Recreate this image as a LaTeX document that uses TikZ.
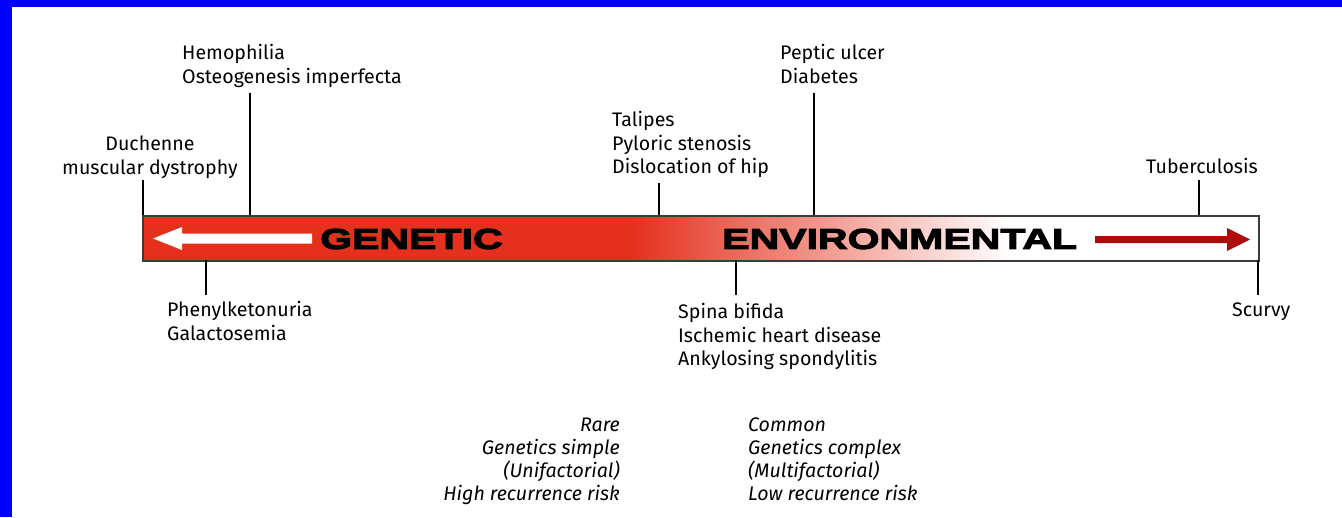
\documentclass[tikz,border=0pt]{standalone}
\usepackage{fontspec}
\setmainfont{Fira Sans}
\newfontfamily\heavyfont{Liberation Sans Bold}[FakeBold=4,FakeStretch=1.44]
\definecolor{frameblue}{RGB}{0,0,255}
\definecolor{barred}{RGB}{228,48,28}
\definecolor{arrowred}{RGB}{172,12,12}
\definecolor{barline}{RGB}{60,60,60}
\tikzset{
  lbl/.style={inner sep=0pt, font=\fontsize{19.6}{23.6}\selectfont, align=left},
  ital/.style={inner sep=0pt, font=\fontsize{19.6}{23}\selectfont\itshape},
  tick/.style={draw=black, line width=1.4pt},
  bigword/.style={inner sep=0pt, anchor=west, font=\heavyfont\fontsize{28.5}{30}\selectfont}
}
\begin{document}
\begin{tikzpicture}[x=1pt,y=-1pt]
\useasboundingbox (0,0) rectangle (1342,517);
\fill[white] (0,0) rectangle (1342,517);
\fill[frameblue] (0,0) rectangle (1342,7);
\fill[frameblue] (0,0) rectangle (12,517);

% bar fill
\fill[barred] (142,215) rectangle (630,260);
\shade[left color=barred, right color=white] (630,215) rectangle (1010,260);
\node[draw=barline, line width=1.5pt, inner sep=0pt, minimum width=1116pt, minimum height=45pt, anchor=north west] (bar) at (142,215) {};

% arrows
\fill[white] (153,238.5) -- (182,227) -- (182,233.5) -- (312,233.5) -- (312,243.5) -- (182,243.5) -- (182,250) -- cycle;
\fill[arrowred] (1250,239.5) -- (1227,228) -- (1227,236) -- (1095,236) -- (1095,243) -- (1227,243) -- (1227,251) -- cycle;

\node[bigword] (gen) at (320,239) {GENETIC};
\node[bigword] (env) at (722,239) {ENVIRONMENTAL};

% labels above
\node[lbl, anchor=north west] (hemo) at (182,44) {Hemophilia\\Osteogenesis imperfecta};
\node[lbl, anchor=north, align=center] (duch) at (150,136) {Duchenne\\muscular dystrophy};
\node[lbl, anchor=north west] (tali) at (612,111) {Talipes\\Pyloric stenosis\\Dislocation of hip};
\node[lbl, anchor=north west] (pept) at (780,44) {Peptic ulcer\\Diabetes};
\node[lbl, anchor=north] (tube) at (1202,158) {Tuberculosis};

% labels below
\node[lbl, anchor=north west] (phen) at (167,301) {Phenylketonuria\\Galactosemia};
\node[lbl, anchor=north west] (spin) at (678,303) {Spina bifida\\Ischemic heart disease\\Ankylosing spondylitis};
\node[lbl, anchor=north west] (scur) at (1232,303) {Scurvy};

% italic notes
\node[ital, anchor=north east, align=right] (rare) at (620,418) {Rare\\Genetics simple\\(Unifactorial)\\High recurrence risk};
\node[ital, anchor=north west, align=left] (comm) at (748,418) {Common\\Genetics complex\\(Multifactorial)\\Low recurrence risk};

% tick coordinates
\coordinate (duchT) at (143,180);  \coordinate (duchB) at (143,215);
\coordinate (hemoT) at (250,93);   \coordinate (hemoB) at (250,215);
\coordinate (taliT) at (659,183);  \coordinate (taliB) at (659,215);
\coordinate (peptT) at (814,93);   \coordinate (peptB) at (814,215);
\coordinate (tubeT) at (1199,180); \coordinate (tubeB) at (1199,215);
\coordinate (phenT) at (206,260);  \coordinate (phenB) at (206,295);
\coordinate (spinT) at (736,260);  \coordinate (spinB) at (736,295);
\coordinate (scurT) at (1258,260); \coordinate (scurB) at (1258,295);

\draw[tick] (duchT) -- (duchB);
\draw[tick] (hemoT) -- (hemoB);
\draw[tick] (taliT) -- (taliB);
\draw[tick] (peptT) -- (peptB);
\draw[tick] (tubeT) -- (tubeB);
\draw[tick] (phenT) -- (phenB);
\draw[tick] (spinT) -- (spinB);
\draw[tick] (scurT) -- (scurB);
\end{tikzpicture}
\end{document}
